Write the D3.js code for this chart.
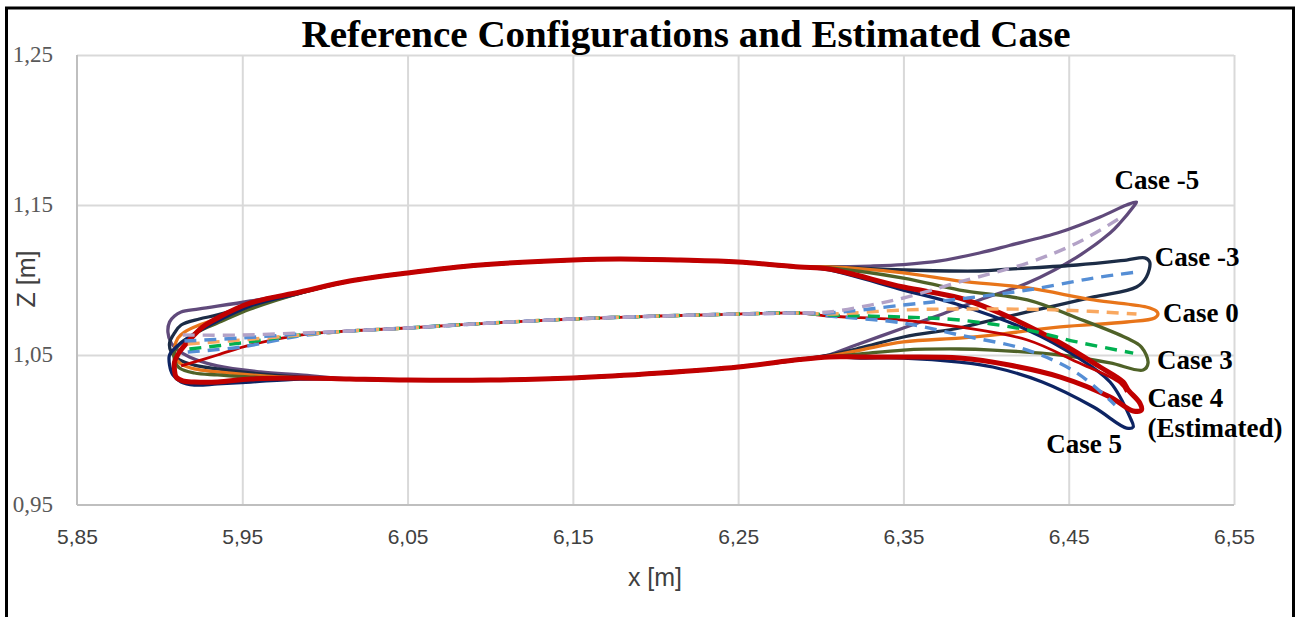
<!DOCTYPE html>
<html>
<head>
<meta charset="utf-8">
<script src="https://cdn.jsdelivr.net/npm/d3@7"></script>
<style>
  body { margin: 0; background: #fff; }
  svg { display: block; }
</style>
</head>
<body>
<svg id="chart" width="1301" height="617"></svg>
<script>
// Axis ticks
const xTicks = [5.85, 5.95, 6.05, 6.15, 6.25, 6.35, 6.45, 6.55];
const yTicks = [0.95, 1.05, 1.15, 1.25];

const caseNames = ["Case -5", "Case -3", "Case 0", "Case 3", "Case 4", "Case 5"];
const caseLabels = [["Case -5"], ["Case -3"], ["Case 0"], ["Case 3"], ["Case 4", "(Estimated)"], ["Case 5"]];

// Shared middle part of the profile (all cases overlap here), [x, z] in m
const midUpper = [[6.015,1.0993],[6.050,1.1047],[6.094,1.1100],[6.150,1.1133],[6.178,1.1140],[6.215,1.1133],[6.250,1.1120],[6.287,1.1087]];
const midLower = [[6.015,1.0340],[6.050,1.0333],[6.100,1.0333],[6.150,1.0347],[6.203,1.0380],[6.250,1.0420],[6.287,1.0470]];
const midCamber = [[6.015,1.0660],[6.050,1.0680],[6.100,1.0713],[6.150,1.0740],[6.203,1.0760],[6.250,1.0773],[6.287,1.0780]];

// Leading edge parts: lower surface -> nose -> upper surface
const noseM5 = [[5.985,1.0367],[5.961,1.0387],[5.935,1.0427],[5.918,1.0487],[5.911,1.0533],[5.907,1.0580],[5.905,1.0653],[5.906,1.0720],[5.909,1.0760],[5.913,1.0787],[5.924,1.0807],[5.955,1.0860],[5.985,1.0920]];
const noseM3 = [[5.985,1.0353],[5.955,1.0380],[5.935,1.0407],[5.921,1.0433],[5.912,1.0467],[5.907,1.0520],[5.906,1.0580],[5.909,1.0647],[5.913,1.0700],[5.924,1.0740],[5.935,1.0767],[5.955,1.0833],[5.985,1.0920]];
const noseP0 = [[5.985,1.0347],[5.955,1.0367],[5.935,1.0387],[5.921,1.0407],[5.913,1.0440],[5.909,1.0487],[5.909,1.0547],[5.911,1.0613],[5.915,1.0653],[5.924,1.0700],[5.935,1.0740],[5.955,1.0820],[5.985,1.0913]];
const noseP3 = [[5.985,1.0347],[5.955,1.0353],[5.935,1.0367],[5.921,1.0380],[5.912,1.0413],[5.909,1.0467],[5.909,1.0520],[5.912,1.0573],[5.917,1.0613],[5.924,1.0660],[5.935,1.0713],[5.955,1.0807],[5.985,1.0913]];
const noseP4 = [[5.985,1.0347],[5.955,1.0340],[5.935,1.0320],[5.921,1.0320],[5.914,1.0327],[5.910,1.0353],[5.909,1.0400],[5.909,1.0453],[5.912,1.0520],[5.918,1.0600],[5.926,1.0687],[5.935,1.0747],[5.955,1.0847],[5.985,1.0920]];
const noseP5 = [[5.985,1.0340],[5.955,1.0320],[5.935,1.0307],[5.921,1.0300],[5.913,1.0320],[5.908,1.0367],[5.906,1.0433],[5.906,1.0500],[5.910,1.0553],[5.917,1.0613],[5.927,1.0680],[5.955,1.0827],[5.985,1.0913]];

// Trailing edge parts: upper surface -> tip -> lower surface
const tailM5 = [[6.305,1.1087],[6.330,1.1093],[6.350,1.1103],[6.372,1.1127],[6.396,1.1180],[6.414,1.1230],[6.445,1.1320],[6.469,1.1420],[6.485,1.1500],[6.491,1.1520],[6.489,1.1487],[6.481,1.1380],[6.475,1.1313],[6.455,1.1153],[6.425,1.0980],[6.396,1.0867],[6.372,1.0767],[6.350,1.0680],[6.318,1.0553],[6.305,1.0500]];
const tailM3 = [[6.305,1.1087],[6.350,1.1067],[6.396,1.1060],[6.414,1.1073],[6.455,1.1100],[6.485,1.1133],[6.496,1.1147],[6.499,1.1120],[6.497,1.1020],[6.491,1.0953],[6.465,1.0887],[6.425,1.0787],[6.396,1.0713],[6.384,1.0680],[6.350,1.0620],[6.324,1.0547],[6.305,1.0500]];
const tailP0 = [[6.305,1.1087],[6.350,1.1047],[6.384,1.0993],[6.425,1.0947],[6.465,1.0867],[6.497,1.0820],[6.503,1.0793],[6.504,1.0773],[6.502,1.0747],[6.485,1.0720],[6.445,1.0687],[6.404,1.0633],[6.384,1.0613],[6.350,1.0587],[6.324,1.0533],[6.305,1.0493]];
const tailP3 = [[6.305,1.1080],[6.350,1.1013],[6.384,1.0933],[6.425,1.0867],[6.455,1.0747],[6.485,1.0613],[6.494,1.0553],[6.498,1.0447],[6.495,1.0400],[6.475,1.0447],[6.445,1.0500],[6.404,1.0533],[6.384,1.0540],[6.350,1.0533],[6.324,1.0507],[6.305,1.0487]];
const tailP4 = [[6.305,1.1073],[6.350,1.0953],[6.384,1.0880],[6.414,1.0753],[6.445,1.0580],[6.469,1.0420],[6.483,1.0320],[6.486,1.0267],[6.493,1.0180],[6.494,1.0133],[6.489,1.0127],[6.475,1.0220],[6.445,1.0353],[6.414,1.0433],[6.384,1.0480],[6.350,1.0487],[6.324,1.0487],[6.305,1.0487]];
const tailP5 = [[6.305,1.1067],[6.350,1.0933],[6.384,1.0833],[6.425,1.0667],[6.455,1.0487],[6.475,1.0320],[6.487,1.0087],[6.489,1.0020],[6.485,1.0013],[6.465,1.0153],[6.434,1.0320],[6.404,1.0420],[6.384,1.0453],[6.350,1.0480],[6.324,1.0480],[6.305,1.0487]];

// Camber lines, front and rear parts
const camberNoseM5 = [[5.914,1.0633],[5.949,1.0633],[5.985,1.0647]];
const camberTailM5 = [[6.305,1.0787],[6.330,1.0833],[6.350,1.0880],[6.384,1.0987],[6.425,1.1113],[6.455,1.1247],[6.481,1.1413]];
const camberNoseM3 = [[5.915,1.0593],[5.949,1.0613],[5.985,1.0640]];
const camberTailM3 = [[6.305,1.0780],[6.350,1.0833],[6.389,1.0880],[6.425,1.0933],[6.465,1.1013],[6.491,1.1053]];
const camberNoseP0 = [[5.917,1.0573],[5.949,1.0600],[5.985,1.0633]];
const camberTailP0 = [[6.305,1.0773],[6.350,1.0800],[6.384,1.0807],[6.445,1.0800],[6.491,1.0773]];
const camberNoseP3 = [[5.918,1.0540],[5.949,1.0580],[5.985,1.0633]];
const camberTailP3 = [[6.305,1.0767],[6.350,1.0753],[6.384,1.0733],[6.425,1.0667],[6.455,1.0587],[6.489,1.0513]];
const camberNoseP4 = [[5.913,1.0427],[5.935,1.0500],[5.955,1.0567],[5.985,1.0633]];
const camberTailP4 = [[6.305,1.0760],[6.350,1.0733],[6.384,1.0687],[6.425,1.0600],[6.455,1.0453],[6.481,1.0313],[6.485,1.0253]];
const camberNoseP5 = [[5.917,1.0520],[5.949,1.0553],[5.985,1.0627]];
const camberTailP5 = [[6.305,1.0760],[6.350,1.0713],[6.384,1.0633],[6.425,1.0533],[6.455,1.0380],[6.478,1.0167]];

const noses = [noseM5, noseM3, noseP0, noseP3, noseP4, noseP5];
const tails = [tailM5, tailM3, tailP0, tailP3, tailP4, tailP5];
const camberNoses = [camberNoseM5, camberNoseM3, camberNoseP0, camberNoseP3, camberNoseP4, camberNoseP5];
const camberTails = [camberTailM5, camberTailM3, camberTailP0, camberTailP3, camberTailP4, camberTailP5];

// Styles and label placement (px offsets from the trailing edge tip)
const lineColors   = ["#604A7B", "#1C2C46", "#E8751A", "#4F6228", "#C00000", "#0D2463"];
const camberColors = ["#B3A2C7", "#558ED5", "#F9A860", "#00B050", "#C00000", "#558ED5"];
const labelOffsets = [[-22,-13], [5,4], [5,8], [9,6], [6,-3], [-87,26]];

const svg = d3.select("#chart");

const x = d3.scaleLinear().domain([5.85, 6.55]).range([77, 1234]);
const y = d3.scaleLinear().domain([0.95, 1.25]).range([505, 55]);

const locale = d3.formatLocale({decimal: ",", thousands: ".", grouping: [3], currency: ["", ""]});
const fmt = locale.format(".2f");

// chart frame
svg.append("rect")
    .attr("x", 6.5).attr("y", 8)
    .attr("width", 1287).attr("height", 640)
    .attr("fill", "#fff")
    .attr("stroke", "#000")
    .attr("stroke-width", 3);

// x axis + vertical grid
let gx = svg.append("g")
    .attr("transform", "translate(0,505)")
    .call(d3.axisBottom(x).tickValues(xTicks).tickFormat(fmt).tickSize(-450).tickSizeOuter(0).tickPadding(24));
gx.selectAll(".tick line").attr("stroke", "#d9d9d9").attr("stroke-width", 2);
gx.selectAll(".tick line").filter(d => d === 5.85).remove();
gx.select(".domain").remove();
gx.selectAll(".tick text")
    .attr("font-family", "'Liberation Sans', Arial, sans-serif")
    .attr("font-size", 21)
    .attr("fill", "#404040");

// y axis + horizontal grid
let gy = svg.append("g")
    .attr("transform", "translate(77,0)")
    .call(d3.axisLeft(y).tickValues(yTicks).tickFormat(fmt).tickSize(-1157).tickSizeOuter(0).tickPadding(24));
gy.selectAll(".tick line").attr("stroke", "#d9d9d9").attr("stroke-width", 2);
gy.selectAll(".tick line").filter(d => d === 0.95).remove();
gy.select(".domain").remove();
gy.selectAll(".tick text")
    .attr("font-family", "'Liberation Serif', 'Times New Roman', serif")
    .attr("font-size", 23)
    .attr("fill", "#595959")
    .attr("dy", "0.28em");

// axis lines (darker than the grid)
svg.append("line").attr("x1", x(5.85)).attr("x2", x(6.55)).attr("y1", y(0.95)).attr("y2", y(0.95))
    .attr("stroke", "#bfbfbf").attr("stroke-width", 2);
svg.append("line").attr("x1", x(5.85)).attr("x2", x(5.85)).attr("y1", y(0.95)).attr("y2", y(1.25))
    .attr("stroke", "#bfbfbf").attr("stroke-width", 2);

// profiles
const closedLine = d3.line()
    .x(d => x(d[0])).y(d => y(d[1]))
    .curve(d3.curveCatmullRomClosed.alpha(0.5));
const openLine = d3.line()
    .x(d => x(d[0])).y(d => y(d[1]))
    .curve(d3.curveCatmullRom.alpha(0.5));

function contour(i) {
    return noses[i].concat(midUpper, tails[i], midLower.slice().reverse());
}
function camber(i) {
    return camberNoses[i].concat(midCamber, camberTails[i]);
}

const plot = svg.append("g").attr("fill", "none").attr("stroke-linejoin", "round");

// contours: red (estimated) drawn last
[0, 1, 2, 3, 5, 4].forEach(function(i) {
    plot.append("path")
        .attr("d", closedLine(contour(i)))
        .attr("stroke", lineColors[i])
        .attr("stroke-width", i === 4 ? 5 : 3.3);
});

// camber of the estimated case, solid thin
plot.append("path")
    .attr("d", openLine(camber(4)))
    .attr("stroke", camberColors[4])
    .attr("stroke-width", 2.8);

// dashed camber lines of the reference cases
[5, 3, 2, 1, 0].forEach(function(i) {
    plot.append("path")
        .attr("d", openLine(camber(i)))
        .attr("stroke", camberColors[i])
        .attr("stroke-width", 3.4)
        .attr("stroke-dasharray", "12,8");
});

// case labels next to the trailing edge tips
caseNames.forEach(function(name, i) {
    let tip = tails[i].reduce((a, b) => (b[0] > a[0] ? b : a));
    let t = svg.append("text")
        .attr("x", x(tip[0]) + labelOffsets[i][0])
        .attr("y", y(tip[1]) + labelOffsets[i][1])
        .attr("font-family", "'Liberation Serif', 'Times New Roman', serif")
        .attr("font-weight", "bold")
        .attr("font-size", 27)
        .attr("fill", "#000");
    caseLabels[i].forEach(function(line, j) {
        t.append("tspan")
            .attr("x", x(tip[0]) + labelOffsets[i][0])
            .attr("dy", j === 0 ? 0 : 30)
            .text(line);
    });
});

// title
svg.append("text")
    .attr("x", 686).attr("y", 47)
    .attr("text-anchor", "middle")
    .attr("font-family", "'Liberation Serif', 'Times New Roman', serif")
    .attr("font-weight", "bold")
    .attr("font-size", 38)
    .attr("textLength", 769)
    .attr("lengthAdjust", "spacingAndGlyphs")
    .text("Reference Configurations and Estimated Case");

// axis titles
svg.append("text")
    .attr("x", 655).attr("y", 586)
    .attr("text-anchor", "middle")
    .attr("font-family", "'Liberation Sans', Arial, sans-serif")
    .attr("font-size", 25)
    .attr("fill", "#404040")
    .text("x [m]");

svg.append("text")
    .attr("transform", "translate(35,279) rotate(-90)")
    .attr("text-anchor", "middle")
    .attr("font-family", "'Liberation Sans', Arial, sans-serif")
    .attr("font-size", 25)
    .attr("fill", "#404040")
    .text("Z [m]");
</script>
</body>
</html>
